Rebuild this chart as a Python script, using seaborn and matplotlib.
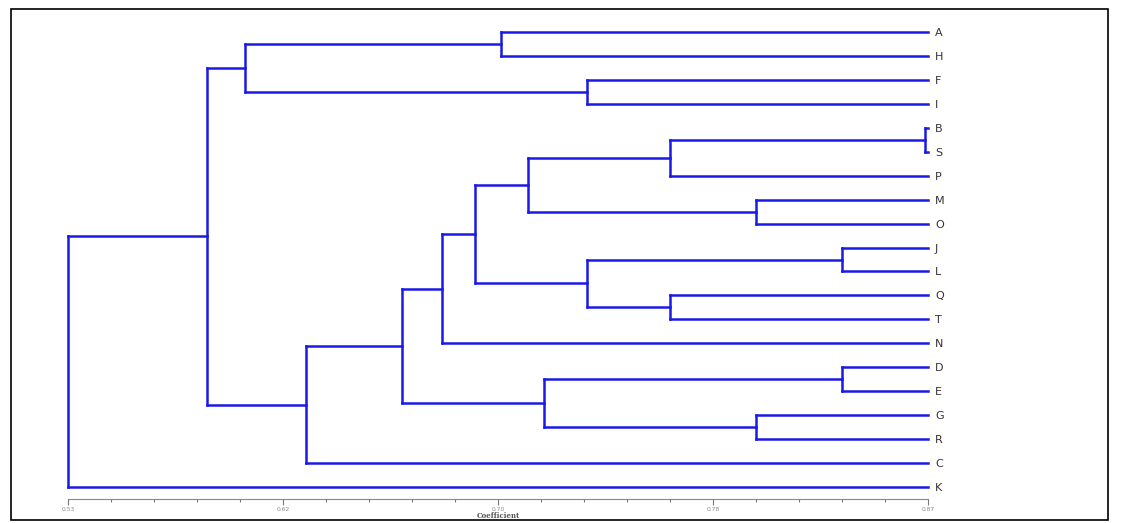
import numpy as np
import pandas as pd
import matplotlib
matplotlib.use("Agg")
import matplotlib.pyplot as plt
import seaborn as sns

# ---- data ----
leaves = ["A", "H", "F", "I", "B", "S", "P", "M", "O", "J",
          "L", "Q", "T", "N", "D", "E", "G", "R", "C", "K"]
# merges (scipy-like ids: leaves 0..19, merge k -> 20+k)
merge_left = [0, 2, 20, 4, 23, 7, 24, 9, 11, 27, 26, 30, 14, 16, 32, 31, 35, 22, 37]
merge_right = [1, 3, 21, 5, 6, 8, 25, 10, 12, 28, 29, 13, 15, 17, 33, 34, 18, 36, 19]
merge_coef = [0.701, 0.735, 0.600, 0.869, 0.768, 0.802, 0.712, 0.836, 0.768, 0.735,
              0.691, 0.678, 0.836, 0.802, 0.718, 0.662, 0.624, 0.585, 0.530]
tick_values = [0.53, 0.615, 0.70, 0.785, 0.87]
tick_labels = ["0.53", "0.62", "0.70", "0.78", "0.87"]
x_label = "Coefficient"

# ---- build segments from linkage ----
n = len(leaves)
xmax = tick_values[-1]
pos_y = {i: float(i) for i in range(n)}
pos_x = {i: xmax for i in range(n)}
rows = []
seg = 0
for k, (l, r, c) in enumerate(zip(merge_left, merge_right, merge_coef)):
    nid = n + k
    for child in (l, r):
        rows.append((seg, pos_x[child], pos_y[child])); rows.append((seg, c, pos_y[child])); seg += 1
    rows.append((seg, c, pos_y[l])); rows.append((seg, c, pos_y[r])); seg += 1
    pos_x[nid] = c
    pos_y[nid] = (pos_y[l] + pos_y[r]) / 2
segs = pd.DataFrame(rows, columns=["seg", "x", "y"])

# ---- plot ----
sns.set_theme(style="white")
plt.rcParams["font.family"] = ["DejaVu Sans"]
W, H = 1121, 523
fig = plt.figure(figsize=(W / 100, H / 100), dpi=100)
ax = fig.add_axes([68 / W, (H - 499) / H, 860 / W, 479 / H])

sns.lineplot(data=segs, x="x", y="y", units="seg", estimator=None, sort=False,
             color="#1a1ae6", linewidth=1.8, ax=ax, legend=False)
for ln in ax.lines:
    ln.set_clip_on(False)
    ln.set_solid_capstyle("projecting")

ax.set_xlim(tick_values[0], tick_values[-1])
ax.set_ylim(n - 0.5, -0.5)

# y leaf labels on right
ax.set_yticks(range(n))
ax.set_yticklabels(leaves)
ax.tick_params(axis="y", left=False, labelleft=False, right=False, labelright=True,
               length=0, pad=5, labelsize=8, labelcolor="#333333")

# x axis
ax.set_xticks(tick_values)
ax.set_xticklabels(tick_labels)
minor = []
for a, b in zip(tick_values[:-1], tick_values[1:]):
    minor += list(np.linspace(a, b, 6)[1:-1])
ax.set_xticks(minor, minor=True)
ax.tick_params(axis="x", which="major", bottom=True, direction="out", length=4,
               width=0.8, color="#777777", labelsize=4.3, labelcolor="#888888", pad=2)
ax.tick_params(axis="x", which="minor", bottom=True, direction="out", length=2,
               width=0.8, color="#777777")
ax.set_xlabel(x_label, fontsize=5, color="#555555", labelpad=0,
              fontfamily="DejaVu Serif", fontweight="bold")
ax.set_ylabel("")
for s in ["top", "left", "right"]:
    ax.spines[s].set_visible(False)
ax.spines["bottom"].set_color("#888888")
ax.spines["bottom"].set_linewidth(0.8)
ax.set_facecolor("none")

# outer frame
frame = plt.Rectangle((11 / W, (H - 520) / H), (1108 - 11) / W, (520 - 9) / H,
                      transform=fig.transFigure, fill=False, edgecolor="black",
                      linewidth=1.2)
fig.add_artist(frame)

fig.savefig("out.png", dpi=100, facecolor="white")
